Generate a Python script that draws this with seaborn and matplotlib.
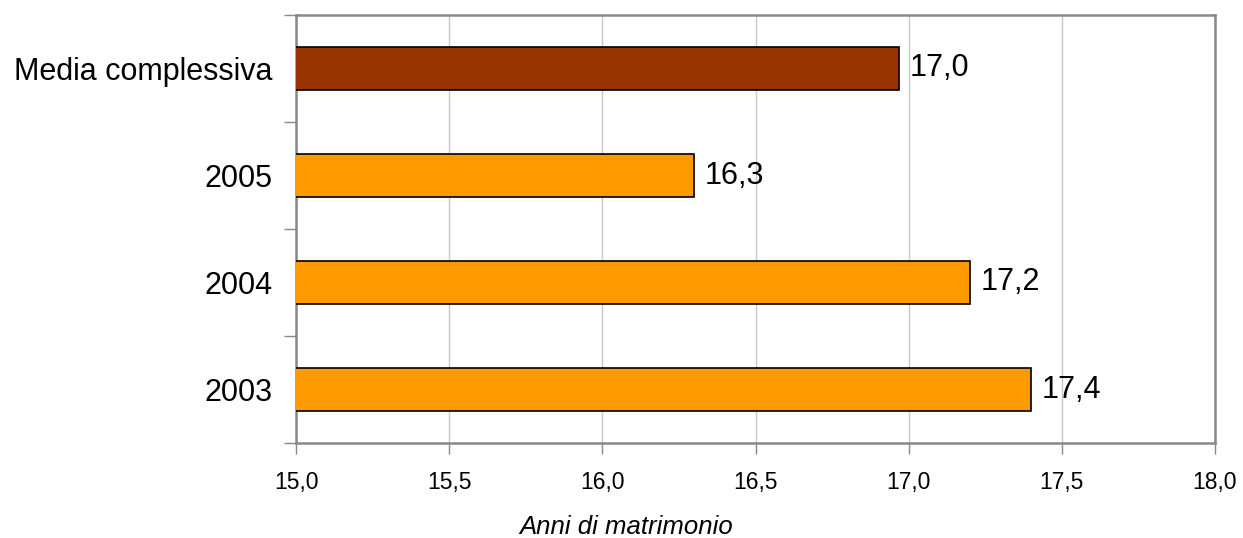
import matplotlib
matplotlib.use("Agg")
import matplotlib.pyplot as plt
import seaborn as sns
import pandas as pd
from matplotlib.ticker import FixedLocator, FuncFormatter, NullFormatter

categories = ["Media complessiva", "2005", "2004", "2003"]
values = [16.97, 16.3, 17.2, 17.4]
value_labels = ["17,0", "16,3", "17,2", "17,4"]
bar_colors = ["#993300", "#FF9900", "#FF9900", "#FF9900"]
x_ticks = [15.0, 15.5, 16.0, 16.5, 17.0, 17.5, 18.0]
x_label = "Anni di matrimonio"

sns.set_theme(style="white")
plt.rcParams["font.family"] = ["Liberation Sans", "DejaVu Sans"]
plt.rcParams["text.color"] = "black"
plt.rcParams["xtick.labelcolor"] = "black"
plt.rcParams["ytick.labelcolor"] = "black"
plt.rcParams["axes.labelcolor"] = "black"

df = pd.DataFrame({"cat": categories, "val": values})

fig = plt.figure(figsize=(12.43, 5.38), dpi=100)
ax = fig.add_axes([296 / 1243, 1 - 443 / 538, (1215 - 296) / 1243, (443 - 15) / 538])

sns.barplot(data=df, x="val", y="cat", hue="cat", palette=bar_colors, order=categories,
            hue_order=categories, orient="h", width=0.4, edgecolor="black", linewidth=1.2,
            saturation=1, legend=False, ax=ax, zorder=3)

ax.set_xlim(15.0, 18.0)
ax.set_ylim(3.5, -0.5)

ax.set_xticks(x_ticks)
ax.xaxis.set_major_formatter(FuncFormatter(lambda v, p: f"{v:.1f}".replace(".", ",")))
ax.tick_params(axis="x", labelsize=16.5, length=8, width=1, color="#888888", pad=12,
               direction="out", bottom=True, labelcolor="black")
ax.grid(axis="x", color="#c8c8c8", linewidth=1, zorder=0)
ax.set_axisbelow(True)

# y: labels at centers without tick, tick marks at boundaries
ax.tick_params(axis="y", which="major", length=0, labelsize=22, pad=17, labelcolor="black")
ax.yaxis.set_minor_locator(FixedLocator([-0.5, 0.5, 1.5, 2.5, 3.5]))
ax.yaxis.set_minor_formatter(NullFormatter())
ax.tick_params(axis="y", which="minor", left=True, length=9, width=1, color="#888888",
               direction="out")

for s in ax.spines.values():
    s.set_color("#888888")
    s.set_linewidth(1.8)
    s.set_visible(True)

ax.set_ylabel("")
ax.set_xlabel(x_label, fontsize=18.5, style="italic", color="black")
ax.xaxis.set_label_coords((626 - 296) / 919, -(527 - 443) / 428)
ax.xaxis.label.set_va("center")

for i, (v, lab) in enumerate(zip(values, value_labels)):
    ax.annotate(lab, xy=(v, i), xytext=(7.5, 0), textcoords="offset points",
                va="center", ha="left", fontsize=22, color="black", zorder=4)

fig.savefig("out.png", dpi=100, facecolor="white")
